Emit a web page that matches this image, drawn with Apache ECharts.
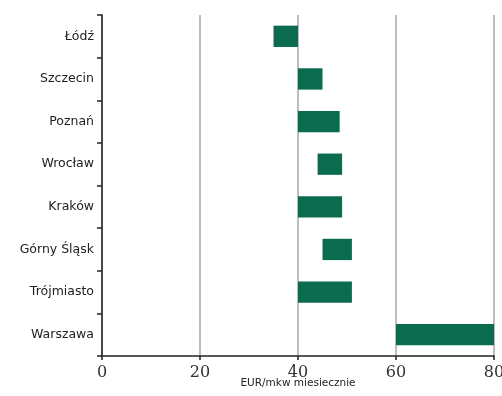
<!DOCTYPE html>
<html>
<head>
<meta charset="utf-8">
<script src="https://cdn.jsdelivr.net/npm/echarts@6/dist/echarts.min.js"></script>
<style>html,body{margin:0;padding:0;background:#fff;}#c{width:502px;height:396px;}</style>
</head>
<body>
<div id="c"></div>
<script>
var categories = ['Łódź', 'Szczecin', 'Poznań', 'Wrocław', 'Kraków', 'Górny Śląsk', 'Trójmiasto', 'Warszawa'];
var lowValues = [35, 40, 40, 44, 40, 45, 40, 60];
var highValues = [40, 45, 48.5, 49, 49, 51, 51, 80];
var xTicks = [0, 20, 40, 60, 80];
var axisName = 'EUR/mkw miesiecznie';

var spanValues = highValues.map(function (h, i) { return h - lowValues[i]; });

var chart = echarts.init(document.getElementById('c'), null, {renderer: 'canvas'});
chart.setOption({
  animation: false,
  backgroundColor: '#fff',
  grid: {left: 102, right: 8, top: 15, bottom: 40, containLabel: false, outerBoundsMode: 'none'},
  xAxis: {
    type: 'value', min: xTicks[0], max: xTicks[xTicks.length - 1], interval: 20,
    name: axisName, nameLocation: 'middle', nameGap: 27, nameMoveOverlap: false,
    nameTextStyle: {fontFamily: 'DejaVu Sans', fontSize: 10.5, color: '#222', verticalAlign: 'middle'},
    axisLine: {show: true, lineStyle: {color: '#222', width: 1.5}},
    axisTick: {show: true, length: 4, lineStyle: {color: '#222', width: 1.5}},
    axisLabel: {fontFamily: 'DejaVu Serif', fontSize: 16, color: '#333', margin: 9},
    splitLine: {show: true, lineStyle: {color: '#bdbdbd', width: 2}}
  },
  yAxis: {
    type: 'category', data: categories, inverse: true,
    axisLine: {show: true, lineStyle: {color: '#222', width: 1.5}},
    axisTick: {show: true, length: 5, lineStyle: {color: '#222', width: 1.5}},
    axisLabel: {fontFamily: 'DejaVu Sans', fontSize: 12.5, color: '#222', margin: 8},
    splitLine: {show: false}
  },
  series: [
    {type: 'bar', stack: 'r', data: lowValues, itemStyle: {color: 'transparent'}, barWidth: '50%', silent: true},
    {type: 'bar', stack: 'r', data: spanValues, itemStyle: {color: '#0b6b4f'}, barWidth: '50%'}
  ]
});
</script>
</body>
</html>
